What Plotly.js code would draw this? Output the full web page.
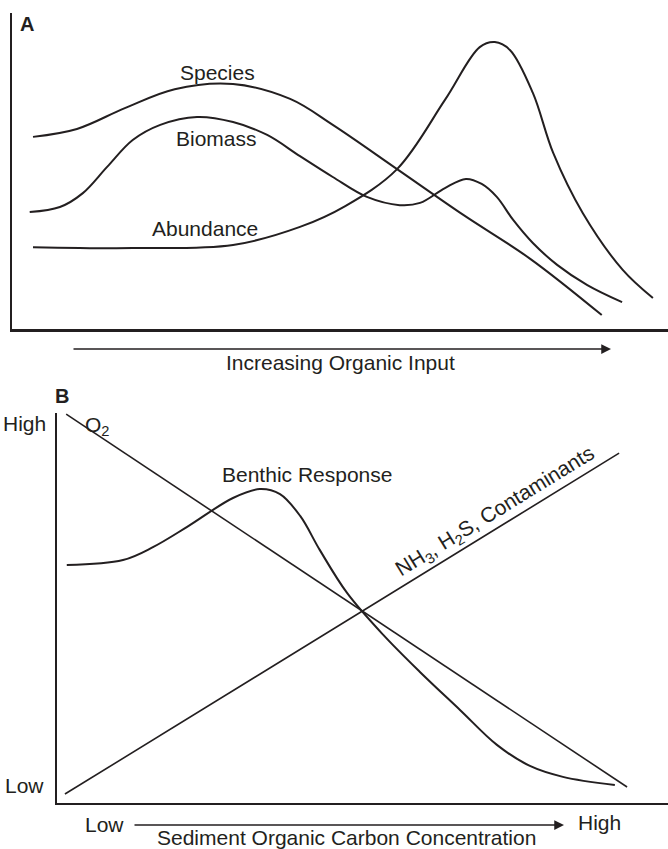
<!DOCTYPE html>
<html>
<head>
<meta charset="utf-8">
<script src="https://cdn.plot.ly/plotly-3.0.1.min.js"></script>
<style>
  html, body { margin: 0; padding: 0; background: #ffffff; }
  #chart { width: 668px; height: 849px; }
</style>
</head>
<body>
<div id="chart"></div>
<script>
// ---------- Panel A data (relative units 0-100) ----------
const speciesX = [3.2, 9.9, 17.2, 24.8, 33.7, 42.4, 48.9, 58.7, 68.8, 79.0, 89.9];
const speciesY = [60.8, 63.3, 69.9, 75.9, 77.5, 72.8, 64.6, 50.6, 36.1, 22.2, 4.4];

const biomassX = [2.7, 7.3, 10.8, 14.5, 18.4, 22.6, 28.2, 33.7, 38.9, 43.9, 48.9, 54.1, 59.1, 62.2, 66.0, 69.2, 71.6, 73.9, 76.4, 79.4, 83.1, 87.7, 93.0];
const biomassY = [37.0, 38.6, 43.0, 51.3, 59.8, 64.6, 67.1, 65.5, 61.4, 54.7, 48.1, 41.8, 39.2, 39.9, 44.6, 47.5, 45.9, 41.8, 34.5, 27.2, 20.3, 13.9, 8.5];

const abundanceX = [3.2, 18.4, 33.7, 43.9, 50.8, 58.7, 66.0, 71.3, 73.6, 75.9, 79.4, 82.5, 87.0, 93.1, 97.7];
const abundanceY = [25.9, 25.6, 26.6, 32.3, 38.9, 50.6, 72.5, 89.2, 90.8, 88.3, 74.7, 55.7, 36.7, 18.7, 9.8];

// ---------- Panel B data (relative units 0-100) ----------
const o2X = [1.5, 93.3];
const o2Y = [99.7, 4.1];

const nh3X = [1.3, 92.0];
const nh3Y = [2.3, 89.7];

const benthicX = [1.6, 10.8, 15.7, 21.3, 28.8, 33.2, 36.5, 39.8, 43.0, 47.5, 53.4, 59.4, 66.0, 72.0, 77.4, 82.8, 91.3];
const benthicY = [61.0, 62.3, 65.6, 70.8, 78.2, 80.5, 79.2, 73.6, 64.9, 53.8, 43.1, 33.6, 23.8, 14.9, 9.5, 6.7, 4.6];

// ---------- Text ----------
const panelLabels = ['A', 'B'];
const curveLabelsA = ['Species', 'Biomass', 'Abundance'];
const xTitleA = 'Increasing Organic Input';
const labelO2 = 'O<sub>2</sub>';
const labelBenthic = 'Benthic Response';
const labelNH3 = 'NH<sub>3</sub>, H<sub>2</sub>S, Contaminants';
const yTicksB = ['High', 'Low'];
const xTicksB = ['Low', 'High'];
const xTitleB = 'Sediment Organic Carbon Concentration';

// ---------- Styling / layout ----------
const W = 668, H = 849;
const INK = '#231f20';
const FONT = '"Liberation Sans", Arial, Helvetica, sans-serif';
const px = v => v / W;
const py = v => 1 - v / H;

const curveStyle = (w) => ({ color: INK, width: w, shape: 'spline', smoothing: 1 });

const traces = [
  { x: speciesX, y: speciesY, mode: 'lines', line: curveStyle(2), xaxis: 'x', yaxis: 'y', hoverinfo: 'skip' },
  { x: biomassX, y: biomassY, mode: 'lines', line: curveStyle(2), xaxis: 'x', yaxis: 'y', hoverinfo: 'skip' },
  { x: abundanceX, y: abundanceY, mode: 'lines', line: curveStyle(2), xaxis: 'x', yaxis: 'y', hoverinfo: 'skip' },
  { x: o2X, y: o2Y, mode: 'lines', line: { color: INK, width: 1.6 }, xaxis: 'x2', yaxis: 'y2', hoverinfo: 'skip' },
  { x: nh3X, y: nh3Y, mode: 'lines', line: { color: INK, width: 1.6 }, xaxis: 'x2', yaxis: 'y2', hoverinfo: 'skip' },
  { x: benthicX, y: benthicY, mode: 'lines', line: curveStyle(2), xaxis: 'x2', yaxis: 'y2', hoverinfo: 'skip' }
];

const axisBase = {
  showgrid: false, zeroline: false, showticklabels: false, ticks: '',
  showline: true, linecolor: INK, fixedrange: true
};

function txt(text, x, y, size, opts) {
  return Object.assign({
    text: text, xref: 'paper', yref: 'paper', x: px(x), y: py(y),
    xanchor: 'center', yanchor: 'middle', showarrow: false,
    font: { family: FONT, size: size, color: INK }
  }, opts || {});
}
function arrow(x0, x1, y) {
  return {
    text: '', xref: 'paper', yref: 'paper', x: px(x1), y: py(y),
    ax: x0 - x1, ay: 0, axref: 'pixel', ayref: 'pixel',
    showarrow: true, arrowhead: 2, arrowsize: 1.3, arrowwidth: 1.5,
    arrowcolor: INK, standoff: 0, startstandoff: 0
  };
}

const annotations = [
  txt('<b>' + panelLabels[0] + '</b>', 27, 24, 20),
  txt(curveLabelsA[0], 217, 72, 21),
  txt(curveLabelsA[1], 216, 138, 21),
  txt(curveLabelsA[2], 205, 229, 21),
  arrow(72, 611, 349),
  txt(xTitleA, 340, 363, 21),

  txt('<b>' + panelLabels[1] + '</b>', 62, 396, 20),
  txt(yTicksB[0], 24, 423, 21),
  txt(yTicksB[1], 24, 785, 21),
  txt(labelO2, 97, 426, 21),
  txt(labelBenthic, 307, 474, 21),
  txt(labelNH3, 495, 512, 21, { textangle: -31.6 }),
  txt(xTicksB[0], 104, 824, 21),
  arrow(133, 564, 825),
  txt(xTicksB[1], 599, 822, 21),
  txt(xTitleB, 346, 837, 21)
];

const layout = {
  width: W, height: H,
  margin: { l: 0, r: 0, t: 0, b: 0 },
  paper_bgcolor: '#ffffff', plot_bgcolor: 'rgba(0,0,0,0)',
  showlegend: false,
  font: { family: FONT, color: INK },
  xaxis: Object.assign({}, axisBase, { domain: [px(12), 1], range: [0, 100], linewidth: 2.5, anchor: 'y' }),
  yaxis: Object.assign({}, axisBase, { domain: [py(329), py(13)], range: [0, 100], linewidth: 2, anchor: 'x' }),
  xaxis2: Object.assign({}, axisBase, { domain: [px(57), 1], range: [0, 100], linewidth: 2, anchor: 'y2' }),
  yaxis2: Object.assign({}, axisBase, { domain: [py(803), py(413)], range: [0, 100], linewidth: 2, anchor: 'x2' }),
  annotations: annotations
};

Plotly.newPlot('chart', traces, layout, { displayModeBar: false, staticPlot: true });
</script>
</body>
</html>
